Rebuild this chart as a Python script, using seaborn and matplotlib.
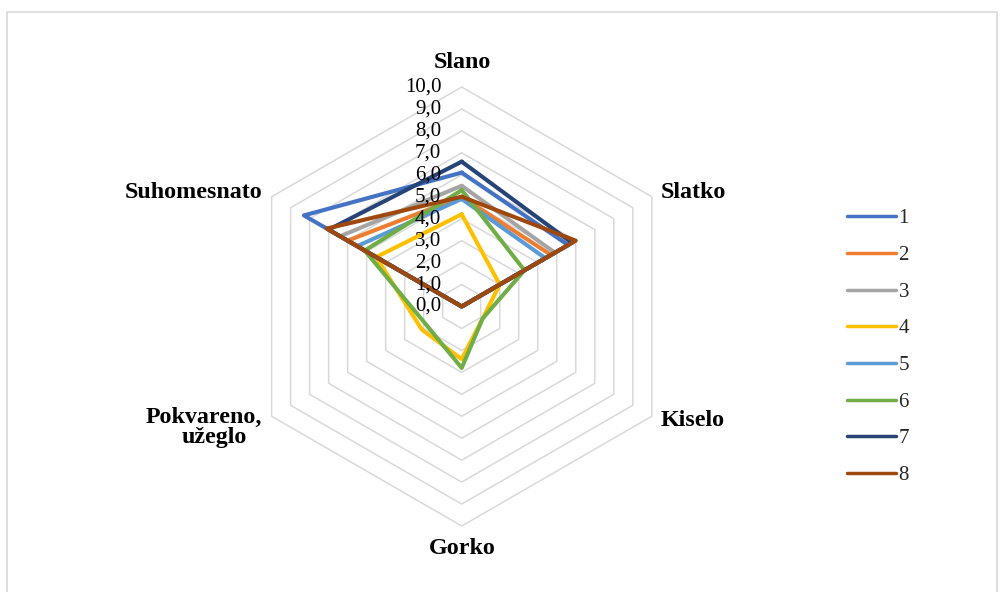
import numpy as np
import pandas as pd
import matplotlib
matplotlib.use("Agg")
import matplotlib.pyplot as plt
import matplotlib.transforms as mtransforms
from matplotlib.patches import Rectangle
import seaborn as sns

# ---------------- data ----------------
categories = ["Slano", "Slatko", "Kiselo", "Gorko", "Pokvareno,\nužeglo", "Suhomesnato"]
series_names = ["1", "2", "3", "4", "5", "6", "7", "8"]
s1 = [6.1, 5.6, 0.0, 0.0, 0.0, 8.3]
s2 = [5.0, 4.7, 0.0, 0.0, 0.0, 6.0]
s3 = [5.5, 4.9, 0.0, 0.0, 0.0, 6.4]
s4 = [4.2, 2.0, 1.1, 2.4, 2.1, 4.5]
s5 = [4.9, 4.4, 0.0, 0.0, 0.0, 5.5]
s6 = [5.3, 3.3, 1.1, 2.8, 1.8, 5.1]
s7 = [6.6, 5.8, 0.0, 0.0, 0.0, 7.0]
s8 = [5.0, 6.0, 0.0, 0.0, 0.0, 7.1]
series_values = [s1, s2, s3, s4, s5, s6, s7, s8]
grid_levels = [0, 1, 2, 3, 4, 5, 6, 7, 8, 9, 10]
tick_labels = ["0,0", "1,0", "2,0", "3,0", "4,0", "5,0", "6,0", "7,0", "8,0", "9,0", "10,0"]
colors = ["#4472C4", "#ED7D31", "#A5A5A5", "#FFC000", "#5B9BD5", "#70AD47", "#264478", "#9E480E"]

# ---------------- style ----------------
sns.set_theme(style="white")
plt.rcParams["font.family"] = ["Liberation Serif", "DejaVu Serif"]

W, H = 1000, 592
fig = plt.figure(figsize=(W / 100, H / 100), dpi=100)

def fx(px):
    return px / W

def fy(py):
    return 1 - py / H

# polar axes positioned so the radar centre / radius match the reference
cx, cy, R = 461.7, 306.5, 219.5
ax = fig.add_axes([fx(cx - R), fy(cy + R), 2 * R / W, 2 * R / H], projection="polar")
ax.set_theta_zero_location("N")
ax.set_theta_direction(-1)
ax.patch.set_visible(False)

n = len(categories)
angles = np.linspace(0, 2 * np.pi, n, endpoint=False)
angles_closed = np.concatenate([angles, [2 * np.pi]])

# hexagonal grid
for lvl in grid_levels[1:]:
    ax.plot(angles_closed, [lvl] * (n + 1), color="#D9D9D9", lw=1.1, zorder=0, clip_on=False)

# long-form data for seaborn
rows = []
for name, vals in zip(series_names, series_values):
    closed = list(vals) + [vals[0]]
    for i, (t, v) in enumerate(zip(angles_closed, closed)):
        rows.append({"series": name, "theta": t, "value": v, "order": i})
df = pd.DataFrame(rows)

sns.lineplot(data=df, x="theta", y="value", hue="series", hue_order=series_names,
             palette=colors, sort=False, estimator=None, units="series",
             linewidth=2.95, ax=ax, legend=True, zorder=3)
for line in ax.lines:
    line.set_solid_joinstyle("round")
    line.set_solid_capstyle("round")
    line.set_clip_on(False)

ax.set_ylim(0, 10)
ax.grid(False)
ax.spines["polar"].set_visible(False)
ax.set_xticks([])
ax.set_yticks([])
ax.set_xlabel("")
ax.set_ylabel("")

# radial tick labels (left of the vertical axis)
off = mtransforms.ScaledTranslation(-0.205, 0, fig.dpi_scale_trans)
for lvl, lab in zip(grid_levels, tick_labels):
    ax.text(0, lvl, lab, transform=ax.transData + off, ha="right", va="center",
            fontsize=15, color="#000000")

# category labels
lab_kw = dict(fontsize=17.3, fontweight="bold", color="#000000")
fig.text(fx(462), fy(63), categories[0], ha="center", va="center", **lab_kw)
fig.text(fx(661), fy(192), categories[1], ha="left", va="center", **lab_kw)
fig.text(fx(661), fy(420), categories[2], ha="left", va="center", **lab_kw)
fig.text(fx(462), fy(548), categories[3], ha="center", va="center", **lab_kw)
pk_first, pk_second = categories[4].split("\n")
fig.text(fx(262), fy(417), pk_first, ha="right", va="center", **lab_kw)
fig.text(fx(214), fy(437), pk_second, ha="center", va="center", **lab_kw)
fig.text(fx(262), fy(193), categories[5], ha="right", va="center", **lab_kw)

# legend
leg = ax.get_legend()
handles, labels = ax.get_legend_handles_labels()
leg.remove()
for h in handles:
    h.set_linewidth(2.5)
    h.set_solid_capstyle("round")
fig.legend(handles, labels, loc="center left", bbox_to_anchor=(fx(847), fy(347)),
           frameon=False, fontsize=15, handlelength=2.35, handletextpad=0.12,
           labelspacing=0.82, borderaxespad=0, borderpad=0)

# chart-area border
fig.patches.append(Rectangle((fx(7), fy(H + 10)), fx(997) - fx(7), fy(12) - fy(H + 10),
                             transform=fig.transFigure, fill=False,
                             edgecolor="#D9D9D9", lw=1.2))

fig.savefig("out.png", dpi=100)
